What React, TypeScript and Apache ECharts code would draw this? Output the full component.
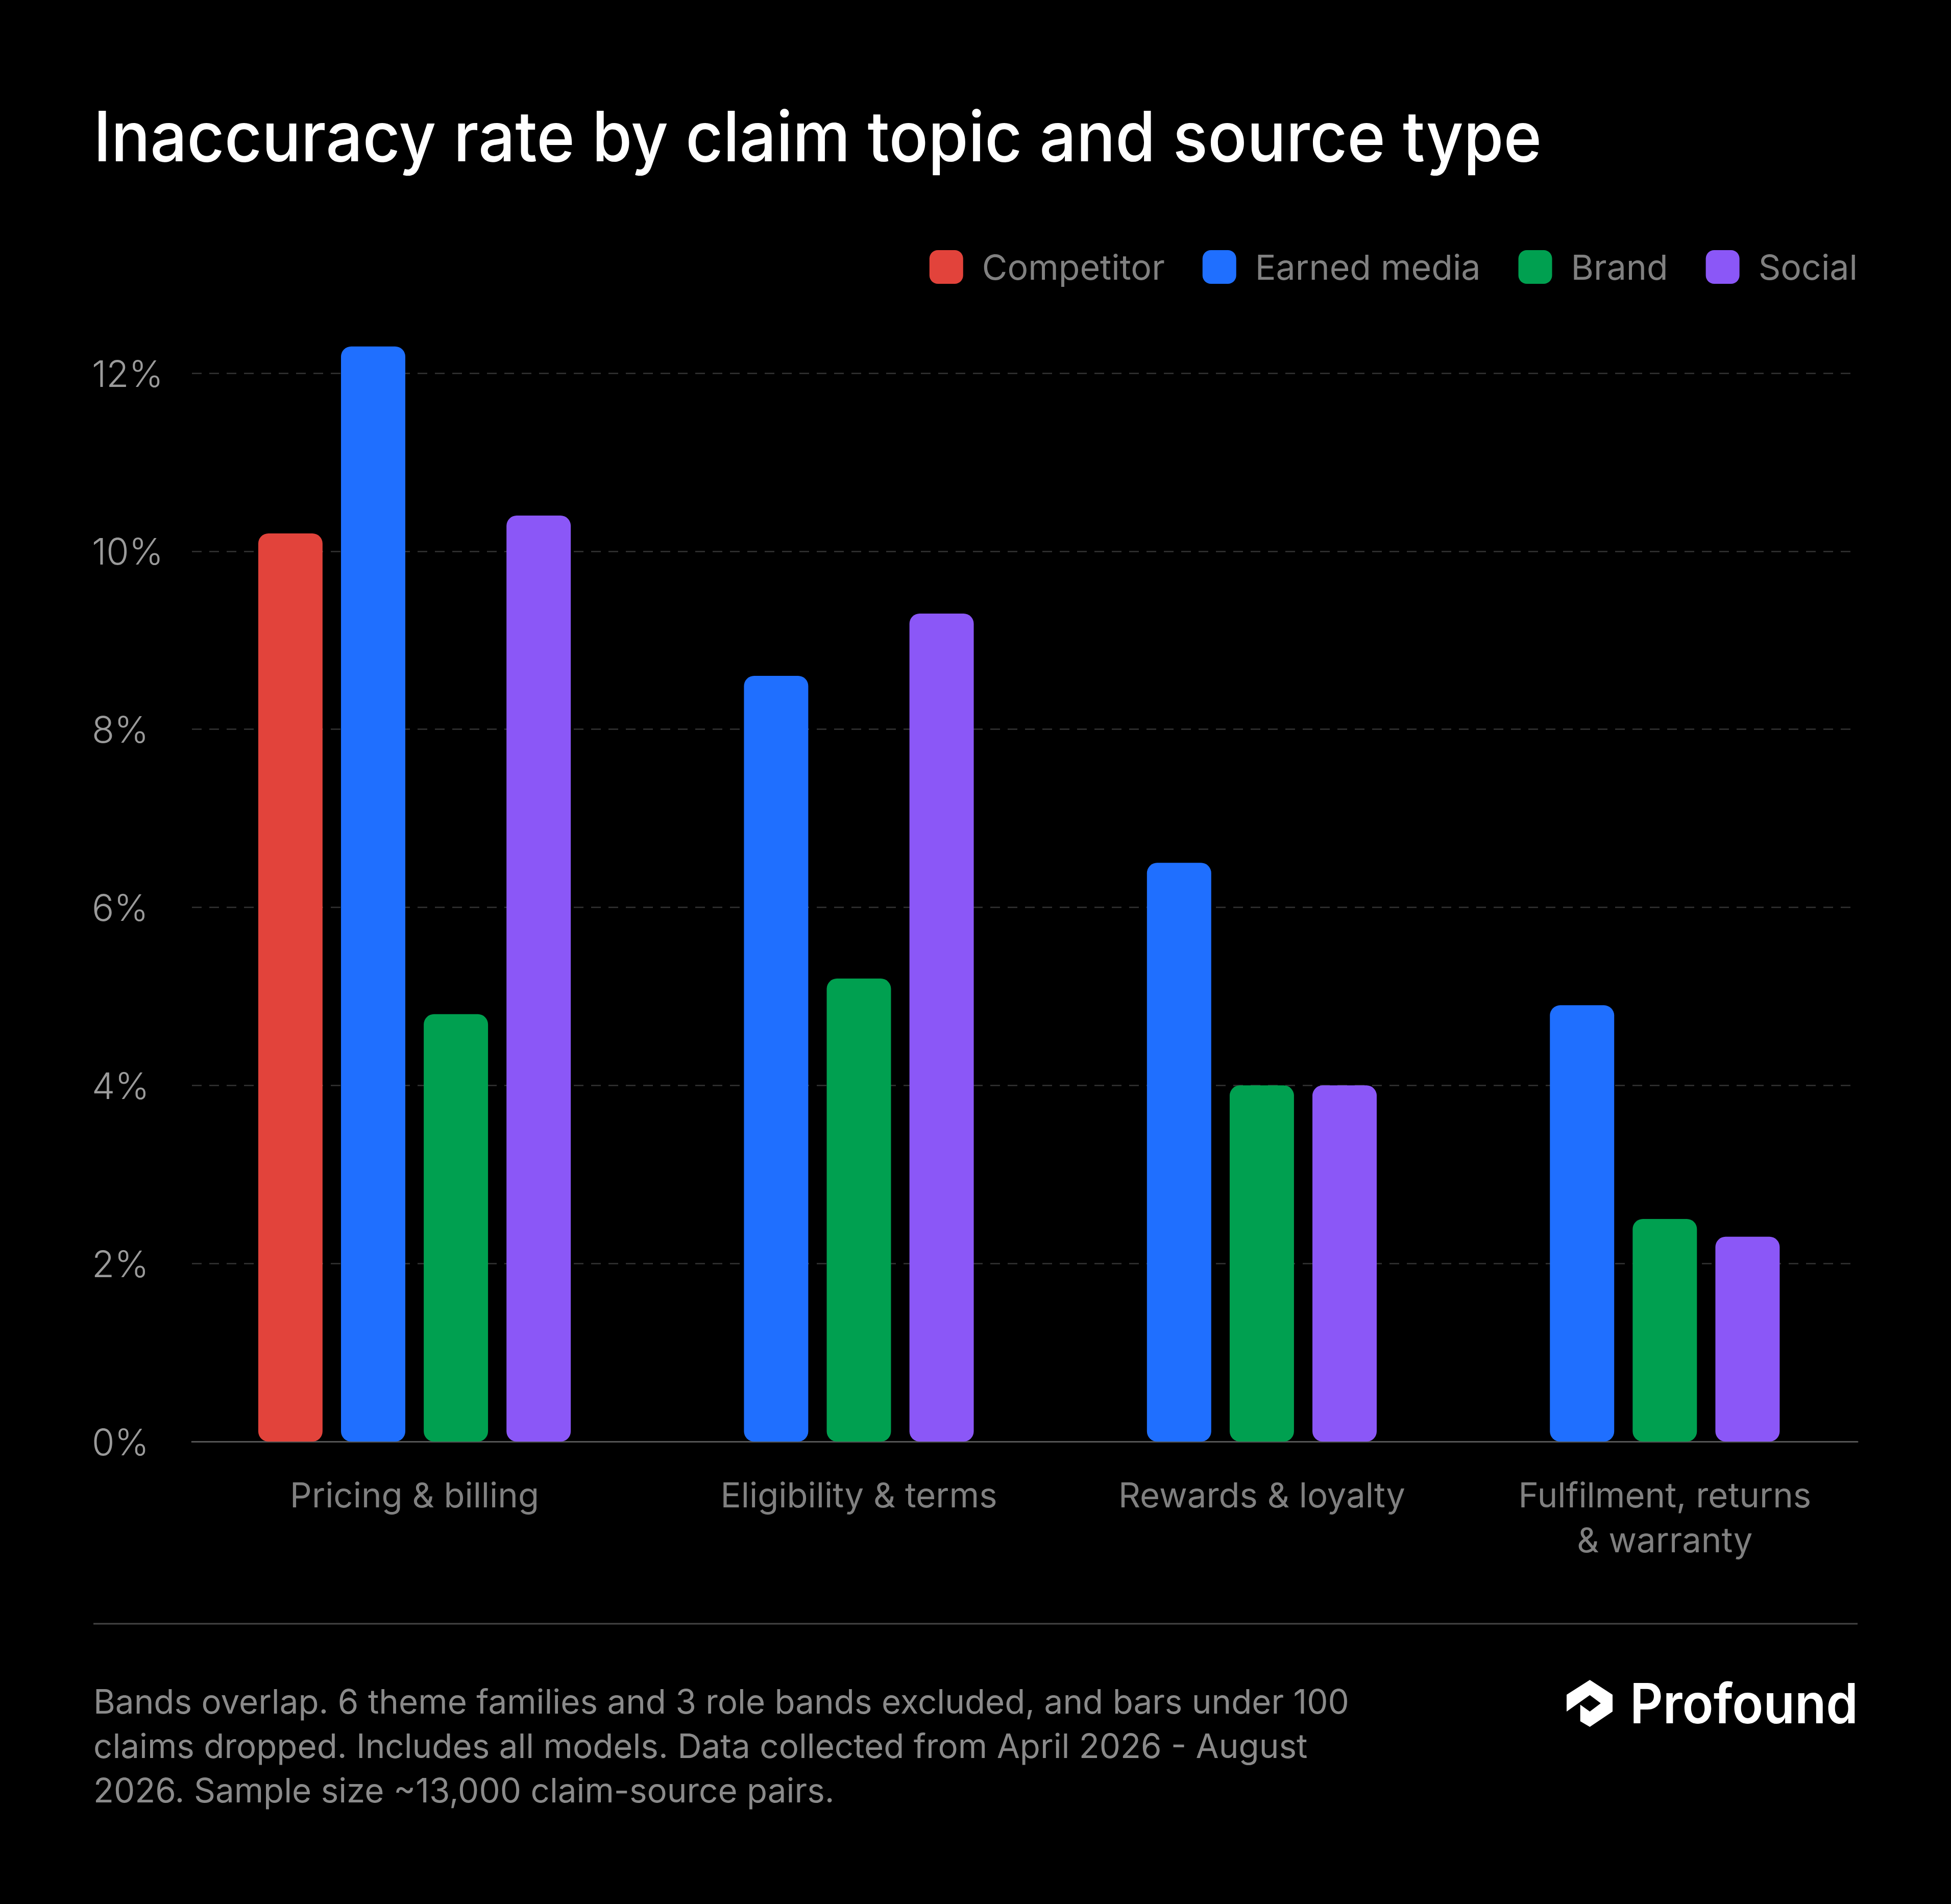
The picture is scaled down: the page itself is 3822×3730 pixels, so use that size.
import React, { useEffect, useRef } from 'react';
import * as echarts from 'echarts';

// ---------- data ----------
const chartTitle = 'Inaccuracy rate by claim topic and source type';
const categories = [
  'Pricing & billing',
  'Eligibility & terms',
  'Rewards & loyalty',
  'Fulfilment, returns\n& warranty',
];
const sourceTypes = ['Competitor', 'Earned media', 'Brand', 'Social'];
const competitor = [10.2, null, null, null];
const earnedMedia = [12.3, 8.6, 6.5, 4.9];
const brand = [4.8, 5.2, 4.0, 2.5];
const social = [10.4, 9.3, 4.0, 2.3];
const yMin = 0;
const yMax = 12;
const yStep = 2;
const footnoteLines = [
  'Bands overlap. 6 theme families and 3 role bands excluded, and bars under 100',
  'claims dropped. Includes all models. Data collected from April 2026 - August',
  '2026. Sample size ~13,000 claim-source pairs.',
];
const brandName = 'Profound';

// ---------- styles / layout ----------
const W = 3822;
const H = 3730;
const colors = ['#E2433B', '#1F6FFF', '#00A050', '#8B57F7'];
const SANS = 'Inter, "Noto Sans", sans-serif';
const GROUP_GAP = 2.87; // slot units between last bar of a group and first bar of next
const BAR_WIDTH = 0.777; // slot units
const PAD_LEFT = 1.19;
const PAD_RIGHT = 1.33;

const seriesValues = [competitor, earnedMedia, brand, social];

const positions: (number | null)[][] = seriesValues.map(() => []);
const groupCenters: number[] = [];
let cursor = 0;
categories.forEach((_, g) => {
  const slots: number[] = [];
  seriesValues.forEach((vals, s) => {
    if (vals[g] == null) {
      positions[s][g] = null;
      return;
    }
    if (slots.length > 0) cursor += 1;
    positions[s][g] = cursor;
    slots.push(cursor);
  });
  groupCenters.push((slots[0] + slots[slots.length - 1]) / 2);
  if (g < categories.length - 1) cursor += GROUP_GAP;
});
const lastPos = cursor;

const LOGO_D =
  'M50.5 0 L100 31.6 L100 67.3 L50.5 100 L29.7 88 L29.7 52.7 L50.5 67.3 L74.3 49.8 L50.5 32.4 L0 67.3 L0 31.6 Z';

let logoRegistered = false;
function registerLogo() {
  if (logoRegistered) return;
  echarts.graphic.registerShape('logo', echarts.graphic.extendPath(LOGO_D, {}));
  logoRegistered = true;
}

export default function App() {
  const ref = useRef<HTMLDivElement>(null);

  useEffect(() => {
    document.body.style.margin = '0';
    document.body.style.background = '#000';
    registerLogo();
    const chart = echarts.init(ref.current!, null, { renderer: 'svg' });

    const option: any = {
      animation: false,
      backgroundColor: '#000',
      legend: {
        data: sourceTypes,
        right: 178,
        top: 484,
        itemWidth: 66,
        itemHeight: 66,
        itemGap: 74,
        icon: 'roundRect',
        textStyle: {
          color: '#808080',
          fontSize: 68,
          fontFamily: SANS,
          padding: [0, 0, 0, 32],
        },
      },
      grid: {
        left: 376,
        right: 183,
        top: 731,
        bottom: H - 2824,
        containLabel: false,
      },
      xAxis: {
        type: 'value',
        min: -PAD_LEFT,
        max: lastPos + PAD_RIGHT,
        splitLine: { show: false },
        axisTick: { show: false },
        axisLine: { show: true, lineStyle: { color: '#555555', width: 3 } },
        axisLabel: {
          customValues: groupCenters,
          formatter: (v: number) => {
            const i = groupCenters.findIndex((c) => Math.abs(c - v) < 1e-6);
            return i >= 0 ? categories[i] : '';
          },
          color: '#808080',
          fontSize: 67,
          lineHeight: 88,
          fontFamily: SANS,
          margin: 60,
        },
      },
      yAxis: {
        type: 'value',
        min: yMin,
        max: yMax,
        interval: yStep,
        axisLine: { show: false },
        axisTick: { show: false },
        axisLabel: {
          formatter: '{value}%',
          color: '#9a9a9a',
          fontSize: 72,
          fontWeight: 300,
          fontFamily: SANS,
          align: 'left',
          margin: 196,
          padding: [6, 0, 0, 0],
        },
        splitLine: {
          show: true,
          lineStyle: { color: '#333333', width: 2.5, type: [19, 15] },
        },
      },
      series: sourceTypes.map((name, s) => ({
        type: 'custom',
        name,
        itemStyle: { color: colors[s] },
        encode: { x: 0, y: 1 },
        clip: false,
        z: 3,
        data: seriesValues[s]
          .map((v, g) => (v == null ? null : [positions[s][g], v]))
          .filter((d) => d != null),
        renderItem: (params: any, api: any) => {
          const x = api.value(0);
          const y = api.value(1);
          const top = api.coord([x, y]);
          const base = api.coord([x, 0]);
          const w = api.size([BAR_WIDTH, 0])[0];
          return {
            type: 'rect',
            shape: {
              x: top[0] - w / 2,
              y: top[1],
              width: w,
              height: base[1] - top[1],
              r: 20,
            },
            style: { fill: colors[s] },
          };
        },
      })),
      graphic: [
        {
          type: 'text',
          x: 183,
          y: 266,
          scaleX: 0.935,
          style: {
            text: chartTitle,
            fill: '#ffffff',
            fontSize: 136,
            fontWeight: 500,
            fontFamily: SANS,
            align: 'left',
            verticalAlign: 'middle',
          },
        },
        {
          type: 'line',
          shape: { x1: 183, y1: 3181, x2: 3639, y2: 3181 },
          style: { stroke: '#444444', lineWidth: 3 },
        },
        {
          type: 'text',
          x: 183,
          y: 3290,
          style: {
            text: footnoteLines.join('\n'),
            fill: '#8a8a8a',
            fontSize: 65.5,
            lineHeight: 87,
            fontFamily: SANS,
            verticalAlign: 'top',
            align: 'left',
          },
        },
        {
          type: 'logo',
          x: 3069,
          y: 3291,
          scaleX: 0.9,
          scaleY: 0.92,
          style: { fill: '#ffffff' },
        },
        {
          type: 'text',
          x: 3640,
          y: 3337,
          scaleX: 0.93,
          style: {
            text: brandName,
            fill: '#ffffff',
            fontSize: 108,
            fontWeight: 600,
            fontFamily: SANS,
            align: 'right',
            verticalAlign: 'middle',
          },
        },
      ],
    };

    chart.setOption(option);
    return () => chart.dispose();
  }, []);

  return <div ref={ref} style={{ width: W, height: H, background: '#000' }} />;
}
